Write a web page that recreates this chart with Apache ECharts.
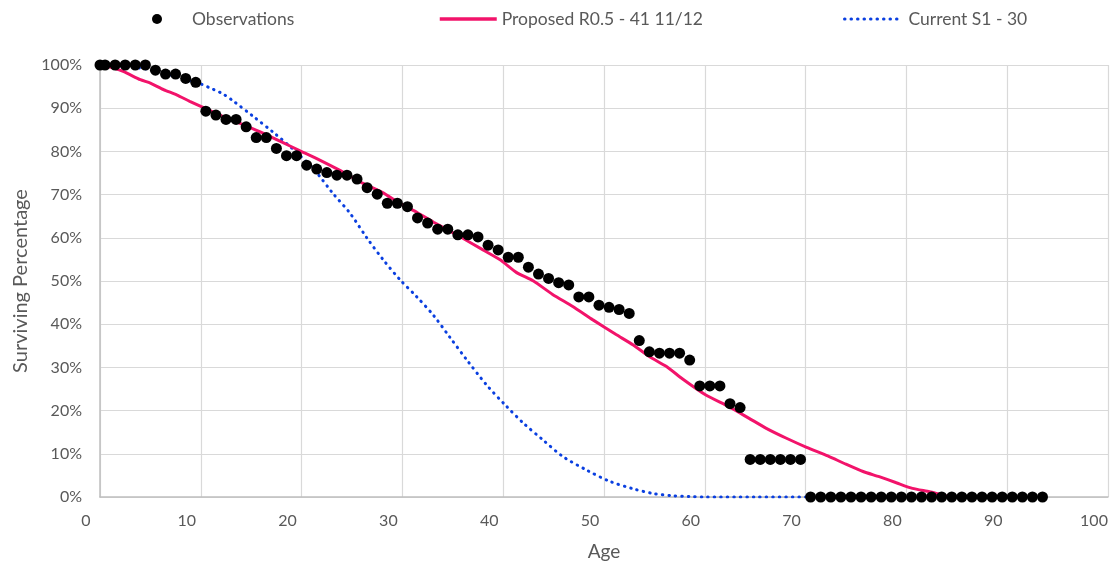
<!DOCTYPE html>
<html>
<head>
<meta charset="utf-8">
<script src="https://cdn.jsdelivr.net/npm/echarts@6/dist/echarts.min.js"></script>
<style>
  html, body { margin: 0; padding: 0; background: #fff; }
  #chart { width: 1112px; height: 568px; }
</style>
</head>
<body>
<div id="chart"></div>
<script>
// ---- Data ----
var obsAges = [0, 0.5, 1.5, 2.5, 3.5, 4.5, 5.5, 6.5, 7.5, 8.5, 9.5,
  10.5, 11.5, 12.5, 13.5, 14.5, 15.5, 16.5, 17.5, 18.5, 19.5,
  20.5, 21.5, 22.5, 23.5, 24.5, 25.5, 26.5, 27.5, 28.5, 29.5,
  30.5, 31.5, 32.5, 33.5, 34.5, 35.5, 36.5, 37.5, 38.5, 39.5,
  40.5, 41.5, 42.5, 43.5, 44.5, 45.5, 46.5, 47.5, 48.5, 49.5,
  50.5, 51.5, 52.5, 53.5, 54.5, 55.5, 56.5, 57.5, 58.5, 59.5,
  60.5, 61.5, 62.5, 63.5, 64.5, 65.5, 66.5, 67.5, 68.5, 69.5,
  70.5, 71.5, 72.5, 73.5, 74.5, 75.5, 76.5, 77.5, 78.5, 79.5,
  80.5, 81.5, 82.5, 83.5, 84.5, 85.5, 86.5, 87.5, 88.5, 89.5,
  90.5, 91.5, 92.5, 93.5];
var obsPct = [100, 100, 100, 100, 100, 100, 98.8, 97.9, 97.9, 96.9, 96.0,
  89.3, 88.4, 87.4, 87.4, 85.7, 83.2, 83.2, 80.7, 79.0, 79.0,
  76.8, 75.9, 75.1, 74.5, 74.5, 73.6, 71.6, 70.1, 68.0, 68.0,
  67.2, 64.6, 63.4, 62.0, 62.0, 60.7, 60.7, 60.2, 58.3, 57.2,
  55.5, 55.5, 53.2, 51.6, 50.6, 49.6, 49.1, 46.3, 46.3, 44.4,
  43.9, 43.4, 42.5, 36.2, 33.6, 33.3, 33.3, 33.3, 31.7, 25.7,
  25.7, 25.7, 21.6, 20.7, 8.7, 8.7, 8.7, 8.7, 8.7, 8.7,
  0, 0, 0, 0, 0, 0, 0, 0, 0, 0,
  0, 0, 0, 0, 0, 0, 0, 0, 0, 0,
  0, 0, 0, 0];

var proposedAges = [0, 1, 2.3, 4.0, 5.0, 6.3, 7.6, 8.9, 10, 11.9, 13.9, 15.9, 17.9, 19.8,
  21.8, 23.8, 26.1, 28, 29.8, 31.5, 33.1, 35.7, 38.0, 39.7, 41.3, 43.0, 44.9,
  46.9, 48.9, 51.2, 52.9, 54.5, 56.2, 57.8, 60.1, 62.4, 64.4, 66.1, 68.1,
  70.1, 72.2, 74.0, 75.7, 77.3, 79.0, 80.6, 82.3, 83.5, 84.5];
var proposedPct = [100, 99.5, 98.5, 96.6, 95.8, 94.3, 93.1, 91.6, 90.4, 88.4, 86.5, 84.5, 82.3, 80.2,
  78.0, 75.6, 72.6, 70.5, 67.9, 65.8, 63.6, 60.3, 57.2, 54.9, 52.0, 50.0, 46.9,
  44.1, 41.0, 37.6, 35.2, 32.5, 30.2, 27.3, 23.6, 20.9, 18.2, 15.9, 13.6,
  11.5, 9.5, 7.6, 5.9, 4.7, 3.3, 2.0, 1.2, 0.5, 0];

var currentAges = [0, 2, 4, 6, 8, 9, 10, 11.2, 12.2, 13.2, 15.2, 17.2, 19.2, 21.2, 23.1, 24.8,
  26.5, 28.1, 29.8, 31.4, 33.1, 34.7, 36.4, 38.4, 40.2, 42.0, 44.0, 45.9,
  48.3, 50.6, 52.9, 54.9, 56.8, 58.5, 60, 65, 70.5];
var currentPct = [100, 99.8, 99.3, 98.4, 97.0, 96.3, 95.6, 94.4, 93.3, 91.7, 88.1, 84.4, 80.4, 75.9, 70.3, 65.7,
  59.9, 54.9, 50.2, 46.4, 42.0, 37.0, 31.7, 25.8, 21.3, 17.1, 13.1, 9.4,
  6.2, 3.6, 1.9, 0.8, 0.3, 0.1, 0, 0, 0];

var xTicks = [0, 100, 10];   // min, max, interval
var yTicks = [0, 100, 10];

var seriesNames = ['Observations', 'Proposed R0.5 - 41 11/12', 'Current S1 - 30'];

function zip(a, b) { return a.map(function (v, i) { return [v, b[i]]; }); }

var FONT = 'Lato';
var GREY = '#595959';
var PINK = '#F2136A';
var BLUE = '#0A3FE0';
var LEG_FS = 17.5;

var chart = echarts.init(document.getElementById('chart'), null, { renderer: 'canvas' });
chart.setOption({
  backgroundColor: '#ffffff',
  animation: false,
  textStyle: { fontFamily: FONT, color: GREY },
  legend: [
    {
      data: [seriesNames[0]], left: 147, top: 5, icon: 'circle',
      itemWidth: 10, itemHeight: 11,
      itemStyle: { color: '#000000', opacity: 1 },
      textStyle: { fontFamily: FONT, fontSize: LEG_FS, color: GREY, padding: [0, 0, 0, 25] }
    },
    {
      data: [seriesNames[1]], left: 433, top: 5,
      itemWidth: 57, itemHeight: 14,
      itemStyle: { opacity: 0 },
      lineStyle: { width: 3.5, color: PINK },
      textStyle: { fontFamily: FONT, fontSize: LEG_FS, color: GREY, padding: [0, 0, 0, 0] }
    },
    {
      data: [seriesNames[2]], left: 838, top: 5,
      itemWidth: 56, itemHeight: 14,
      itemStyle: { opacity: 0 },
      lineStyle: { width: 3, color: BLUE },
      textStyle: { fontFamily: FONT, fontSize: LEG_FS, color: GREY, padding: [0, 0, 0, 3] }
    }
  ],
  grid: { left: 100, right: 4, top: 65, bottom: 71, containLabel: false },
  xAxis: {
    type: 'value', min: xTicks[0], max: xTicks[1], interval: xTicks[2],
    name: 'Age', nameLocation: 'middle', nameGap: 45,
    nameTextStyle: { fontFamily: FONT, fontSize: 19, color: GREY },
    axisLine: { show: true, lineStyle: { color: '#BFBFBF', width: 1.5 } },
    axisTick: { show: false },
    splitLine: { show: true, lineStyle: { color: '#D9D9D9', width: 1.2 } },
    axisLabel: { fontFamily: FONT, fontSize: 16, color: GREY, margin: 16, padding: [0, 28, 0, 0] }
  },
  yAxis: {
    type: 'value', min: yTicks[0], max: yTicks[1], interval: yTicks[2],
    name: 'Surviving Percentage', nameLocation: 'middle', nameGap: 68, nameRotate: 90,
    nameTextStyle: { fontFamily: FONT, fontSize: 20, color: GREY },
    axisLine: { show: true, lineStyle: { color: '#BFBFBF', width: 1.5 } },
    axisTick: { show: false },
    splitLine: { show: true, lineStyle: { color: '#D9D9D9', width: 1.2 } },
    axisLabel: { fontFamily: FONT, fontSize: 16, color: GREY, margin: 18, formatter: '{value}%' }
  },
  series: [
    {
      name: seriesNames[2], type: 'line', data: zip(currentAges, currentPct),
      smooth: 0.3, symbol: 'none', z: 2,
      lineStyle: { color: BLUE, width: 3, type: [0.5, 6], cap: 'round' },
      itemStyle: { color: BLUE }
    },
    {
      name: seriesNames[1], type: 'line', data: zip(proposedAges, proposedPct),
      smooth: 0.2, symbol: 'none', z: 3,
      lineStyle: { color: PINK, width: 3 },
      itemStyle: { color: PINK }
    },
    {
      name: seriesNames[0], type: 'scatter', data: zip(obsAges, obsPct),
      symbol: 'circle', symbolSize: 11, z: 4,
      itemStyle: { color: '#000000', opacity: 1 }
    }
  ]
});
</script>
</body>
</html>
